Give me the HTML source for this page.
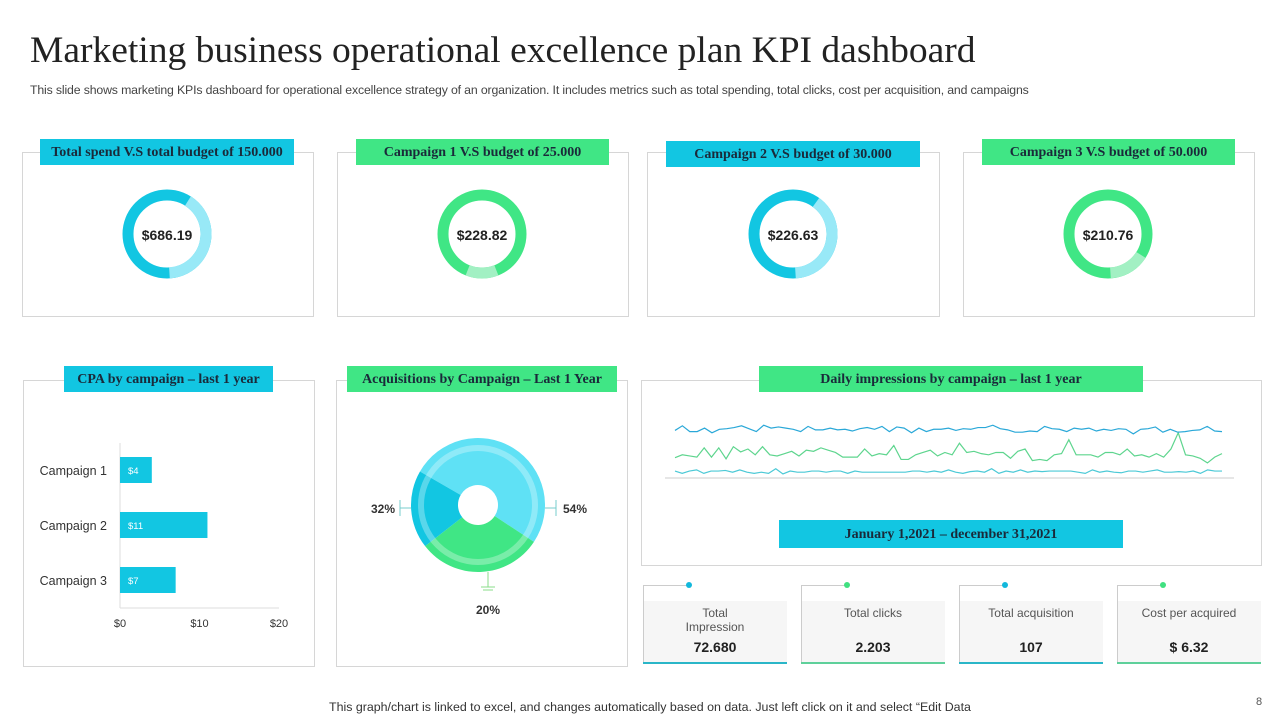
<!DOCTYPE html>
<html><head><meta charset="utf-8"><style>
*{margin:0;padding:0;box-sizing:border-box}
body{width:1280px;height:720px;background:#fff;position:relative;overflow:hidden;font-family:"Liberation Sans",sans-serif;color:#222}
.abs{position:absolute}
.box{position:absolute;border:1px solid #d6d6d6;background:#fff}
.tag{position:absolute;height:26px;font-family:"Liberation Serif",serif;font-weight:bold;font-size:14px;color:#1a2a3a;text-align:center;line-height:28px;white-space:nowrap}
.cy{background:#12c6e2}.gr{background:#40e685}
.kpi{position:absolute;width:144px;height:80px}
.kpi .panel{position:absolute;left:0;top:16px;width:144px;height:62px;background:#f6f6f6}
.kpi .tl{position:absolute;left:0;top:0;width:46px;height:78px;border-left:1px solid #ccc;border-top:1px solid #ccc}
.kpi .dot{position:absolute;left:43px;top:-3px;width:6px;height:6px;border-radius:50%}
.kpi .lbl{position:absolute;left:0;width:144px;top:21px;text-align:center;font-size:12px;color:#555;line-height:14px}
.kpi .val{position:absolute;left:0;width:144px;top:54px;text-align:center;font-size:14px;font-weight:bold;color:#222}
.kpi .bl{position:absolute;left:0;top:77px;width:144px;height:2px}
</style></head><body>
<div class="abs" style="left:30px;top:29px;font-family:'Liberation Serif',serif;font-size:37.5px;color:#222;white-space:nowrap">Marketing business operational excellence plan KPI dashboard</div>
<div class="abs" style="left:30px;top:83px;font-size:12.3px;color:#444;white-space:nowrap;letter-spacing:-0.15px">This slide shows marketing KPIs dashboard for operational excellence strategy of an organization. It includes metrics such as total spending, total clicks, cost per acquisition, and campaigns</div>

<div class="box" style="left:22px;top:152px;width:292px;height:165px"></div>
<div class="box" style="left:337px;top:152px;width:292px;height:165px"></div>
<div class="box" style="left:647px;top:152px;width:293px;height:165px"></div>
<div class="box" style="left:963px;top:152px;width:292px;height:165px"></div>
<div class="tag cy" style="left:40px;top:139px;width:254px">Total spend V.S total budget of 150.000</div>
<div class="tag gr" style="left:356px;top:139px;width:253px">Campaign 1 V.S budget of 25.000</div>
<div class="tag cy" style="left:666px;top:141px;width:254px">Campaign 2 V.S budget of 30.000</div>
<div class="tag gr" style="left:982px;top:139px;width:253px">Campaign 3 V.S budget of 50.000</div>

<div class="box" style="left:23px;top:380px;width:292px;height:287px"></div>
<div class="box" style="left:336px;top:380px;width:292px;height:287px"></div>
<div class="box" style="left:641px;top:380px;width:621px;height:186px"></div>
<div class="tag cy" style="left:64px;top:366px;width:209px">CPA by campaign – last 1 year</div>
<div class="tag gr" style="left:347px;top:366px;width:270px">Acquisitions by Campaign – Last 1 Year</div>
<div class="tag gr" style="left:759px;top:366px;width:384px">Daily impressions by campaign – last 1 year</div>
<div class="tag cy" style="left:779px;top:520px;width:344px;height:28px;line-height:30px">January 1,2021 – december 31,2021</div>

<svg id="chart" class="abs" style="left:0;top:0" width="1280" height="720"></svg>

<div class="kpi" style="left:643px;top:585px"><div class="panel"></div><div class="tl"></div><div class="dot" style="background:#12b8dc"></div><div class="lbl">Total<br>Impression</div><div class="val">72.680</div><div class="bl" style="background:#2ab6c8"></div></div>
<div class="kpi" style="left:801px;top:585px"><div class="panel"></div><div class="tl"></div><div class="dot" style="background:#40e080"></div><div class="lbl">Total clicks</div><div class="val">2.203</div><div class="bl" style="background:#5ed09a"></div></div>
<div class="kpi" style="left:959px;top:585px"><div class="panel"></div><div class="tl"></div><div class="dot" style="background:#12b8dc"></div><div class="lbl">Total acquisition</div><div class="val">107</div><div class="bl" style="background:#2ab6c8"></div></div>
<div class="kpi" style="left:1117px;top:585px"><div class="panel"></div><div class="tl"></div><div class="dot" style="background:#40e080"></div><div class="lbl">Cost per acquired</div><div class="val">$ 6.32</div><div class="bl" style="background:#5ed09a"></div></div>

<div class="abs" style="left:329px;top:700px;font-size:12.4px;color:#333;white-space:nowrap">This graph/chart is linked to excel,  and changes automatically based on data. Just left click on it and select “Edit Data</div>
<div class="abs" style="left:1256px;top:696px;font-size:11px;color:#555">8</div>

<script>
// Donut data
const donutLabels = ["$686.19","$228.82","$226.63","$210.76"];
const donutShare = [0.40,0.12,0.39,0.15];      // lighter segment share
const donutStart = [0.09,0.44,0.10,0.34];       // lighter segment start (fraction of turn)
// CPA bar data
const cpaCategories = ["Campaign 1","Campaign 2","Campaign 3"];
const cpaValues = [4,11,7];
const cpaTicks = [0,10,20];
// Pie data
const pieValues = [54,32,20];
const pieLabels = ["54%","20%","32%"];
// Impressions line data
const impBlue = [82,90,80,80,86,78,84,85,87,90,85,80,91,86,88,86,84,80,89,83,83,86,83,84,81,85,87,84,89,80,88,86,78,86,80,84,84,86,82,85,84,87,87,91,85,83,79,79,81,80,89,85,84,80,86,84,86,81,84,82,85,84,76,84,85,88,79,84,79,80,82,83,89,81,80];
const impGreen = [35,40,38,36,52,36,52,33,54,45,50,40,54,40,38,42,46,38,48,46,52,48,44,36,36,36,50,38,42,40,56,32,32,40,44,48,38,44,40,60,44,46,42,40,44,44,34,46,50,30,32,30,40,42,66,40,40,40,36,44,44,40,50,38,40,36,42,36,50,78,40,38,34,26,36,42];
const impTeal = [12,8,12,14,8,12,12,13,10,14,10,8,10,8,16,7,12,10,10,12,12,10,12,12,8,12,10,10,10,10,10,10,10,12,12,10,12,10,14,10,8,11,12,10,16,8,12,10,14,10,12,11,12,12,12,12,10,8,14,10,12,10,9,12,12,10,12,14,10,10,11,10,12,8,14,12,12];

const svg = document.getElementById('chart');
const NS = 'http://www.w3.org/2000/svg';
function mk(tag, attrs, parent){const e=document.createElementNS(NS,tag);for(const k in attrs)e.setAttribute(k,attrs[k]);(parent||svg).appendChild(e);return e;}

// donuts
const donutCx=[167,482,793,1108], donutCy=234;
const donutDark=["#12c6e2","#40e685","#12c6e2","#40e685"], donutLight=["#98e9f7","#a2f0c3","#98e9f7","#a2f0c3"];
function arcPath(cx,cy,r,a0,a1){const p=(a)=>[cx+r*Math.sin(a*2*Math.PI),cy-r*Math.cos(a*2*Math.PI)];const s=p(a0),e=p(a1);const large=(a1-a0)>0.5?1:0;return `M${s[0]},${s[1]} A${r},${r} 0 ${large} 1 ${e[0]},${e[1]}`;}
donutLabels.forEach((lab,i)=>{
  const g=mk('g',{});
  
  
  const r=39, s=donutStart[i], f=donutShare[i];
  const c=mk('circle',{cx:donutCx[i],cy:donutCy,r:r,fill:'none',stroke:donutDark[i],'stroke-width':11},g);
  
  
  const a=mk('path',{d:arcPath(donutCx[i],donutCy,r,s,s+f),fill:'none',stroke:donutLight[i],'stroke-width':11},g);
  
  
  const t=mk('text',{x:donutCx[i],y:donutCy+6,'text-anchor':'middle','font-size':14,'font-weight':'bold',fill:'#222','font-family':'Liberation Sans, sans-serif'},g);
  t.textContent=lab;
  
  
});

// CPA bars
const bx0=120, bx1=279, bmax=20;
const xs=v=>bx0+(v/bmax)*(bx1-bx0);
const barY=[470,525,580];
mk('line',{x1:bx0,y1:443,x2:bx0,y2:608,stroke:'#ddd'});
mk('line',{x1:bx0,y1:608,x2:bx1,y2:608,stroke:'#ddd'});
cpaTicks.forEach(t=>{const e=mk('text',{x:xs(t),y:627,'text-anchor':'middle','font-size':11,fill:'#333'});e.textContent='$'+t;

});
cpaCategories.forEach((c,i)=>{
  const l=mk('text',{x:107,y:barY[i]+5,'text-anchor':'end','font-size':12.5,fill:'#333'});l.textContent=c;
  
  
  const b=mk('rect',{x:bx0,y:barY[i]-13,width:xs(cpaValues[i])-bx0,height:26,fill:'#12c6e2'});
  
  
  const v=mk('text',{x:bx0+8,y:barY[i]+4,'font-size':9.5,fill:'#fff'});v.textContent='$'+cpaValues[i];
  
  
});

// Pie
const pcx=478,pcy=505,pr=67,pri=20;
const pieCols=["#5fe1f5","#40e685","#12c6e2"];
const tot=pieValues.reduce((a,b)=>a+b,0);
let ang=-60/360;
function sector(a0,a1,r,ri){const p=(a,rr)=>[pcx+rr*Math.sin(a*2*Math.PI),pcy-rr*Math.cos(a*2*Math.PI)];const large=(a1-a0)>0.5?1:0;const A=p(a0,r),B=p(a1,r),C=p(a1,ri),D=p(a0,ri);return `M${A} A${r},${r} 0 ${large} 1 ${B} L${C} A${ri},${ri} 0 ${large} 0 ${D}Z`;}
pieValues.forEach((v,i)=>{const a1=ang+v/tot;const s=mk('path',{d:sector(ang,a1,pr,pri),fill:pieCols[i]});

ang=a1;});
mk('circle',{cx:pcx,cy:pcy,r:57,fill:'none',stroke:'rgba(255,255,255,0.3)','stroke-width':6});
mk('line',{x1:pcx+pr,y1:pcy+3,x2:pcx+78,y2:pcy+3,stroke:'#7cc'});mk('line',{x1:pcx+78,y1:pcy-5,x2:pcx+78,y2:pcy+11,stroke:'#7cc'});
mk('line',{x1:pcx-pr,y1:pcy+3,x2:pcx-78,y2:pcy+3,stroke:'#7cc'});mk('line',{x1:pcx-78,y1:pcy-5,x2:pcx-78,y2:pcy+11,stroke:'#7cc'});
mk('line',{x1:pcx+10,y1:pcy+pr,x2:pcx+10,y2:pcy+82,stroke:'#8d8'});mk('line',{x1:pcx+3,y1:pcy+82,x2:pcx+17,y2:pcy+82,stroke:'#8d8'});mk('line',{x1:pcx+5,y1:pcy+85,x2:pcx+15,y2:pcy+85,stroke:'#8d8'});
[[563,513,'start',0],[488,614,'middle',1],[395,513,'end',2]].forEach(p=>{const t=mk('text',{x:p[0],y:p[1],'text-anchor':p[2],'font-size':12,'font-weight':'bold',fill:'#333'});t.textContent=pieLabels[p[3]];

});

// Line chart
const lx0=675,lx1=1222,ly0=478,ly1=420;
mk('line',{x1:665,y1:478,x2:1234,y2:478,stroke:'#ccc'});
function drawLine(arr,col,name){const n=arr.length;const pts=arr.map((v,i)=>`${lx0+i*(lx1-lx0)/(n-1)},${ly0-(v/100)*(ly0-ly1)}`).join(' ');
const p=mk('polyline',{points:pts,fill:'none',stroke:col,'stroke-width':1.2});

}
drawLine(impTeal,'#4cc9d6','impressions-campaign-3');
drawLine(impGreen,'#5ed58e','impressions-campaign-2');
drawLine(impBlue,'#2aa8d8','impressions-campaign-1');
</script>
</body></html>
